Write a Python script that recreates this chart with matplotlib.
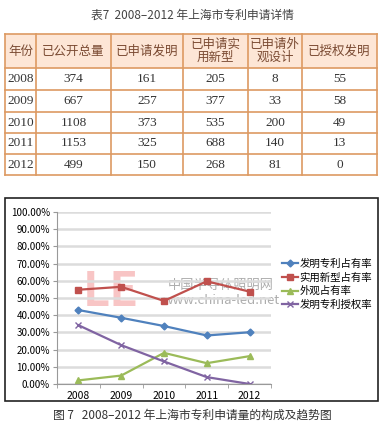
import numpy as np
import matplotlib
matplotlib.use("Agg")
import matplotlib.pyplot as plt
from matplotlib.patches import Rectangle

plt.rcParams['font.family'] = ['Noto Sans CJK SC', 'DejaVu Sans']

# table data
headers = ["年份", "已公开总量", "已申请发明", "已申请实\n用新型", "已申请外\n观设计", "已授权发明"]
years = ["2008", "2009", "2010", "2011", "2012"]
total_pub = [374, 667, 1108, 1153, 499]
invention = [161, 257, 373, 325, 150]
utility = [205, 377, 535, 688, 268]
design = [8, 33, 200, 140, 81]
granted = [55, 58, 49, 13, 0]

# chart data (shares, %)
series_names = ["发明专利占有率", "实用新型占有率", "外观占有率", "发明专利授权率"]
inv_share = [43.0, 38.5, 33.7, 28.2, 30.1]
util_share = [54.8, 56.5, 48.3, 59.7, 53.7]
design_share = [2.1, 4.9, 18.1, 12.1, 16.2]
grant_rate = [34.2, 22.6, 13.1, 4.0, 0.0]

W, H = 384, 429
fig = plt.figure(figsize=(W / 100, H / 100), dpi=100)

# full-figure axes in pixel coords for table and captions
bg = fig.add_axes([0, 0, 1, 1])
bg.set_xlim(0, W)
bg.set_ylim(H, 0)
bg.axis("off")

bg.text(192, 15, "表7  2008–2012 年上海市专利申请详情", ha="center", va="center",
        fontsize=8.5, color="#444444")

col_x = [5, 36, 111, 183, 248, 302, 377]
row_y = [34, 68, 90, 112, 133, 154, 175]
border = "#dd9a62"

bg.add_patch(Rectangle((col_x[0], row_y[0]), col_x[-1] - col_x[0], row_y[1] - row_y[0],
                       facecolor="#fde6d6", edgecolor="none"))
for xx in col_x:
    bg.plot([xx, xx], [row_y[0], row_y[-1]], color=border, lw=1.2)
for yy in row_y:
    bg.plot([col_x[0], col_x[-1]], [yy, yy], color=border, lw=1.2)

for i, h in enumerate(headers):
    cx = (col_x[i] + col_x[i + 1]) / 2
    bg.text(cx, (row_y[0] + row_y[1]) / 2, h, ha="center", va="center",
            fontsize=9, color="#7a4a32", linespacing=1.05)

table_cols = [years, total_pub, invention, utility, design, granted]
for r in range(len(years)):
    cy = (row_y[r + 1] + row_y[r + 2]) / 2
    for c, col in enumerate(table_cols):
        cx = (col_x[c] + col_x[c + 1]) / 2
        bg.text(cx, cy, str(col[r]), ha="center", va="center", fontsize=9.5,
                family="Liberation Serif", color="#333333")

# chart frame
bg.add_patch(Rectangle((5, 198), 373, 203, facecolor="none", edgecolor="#222222", lw=1.2))

bg.text(192, 415, "图 7   2008–2012 年上海市专利申请量的构成及趋势图", ha="center",
        va="center", fontsize=8.5, color="#333333")

# watermark on the chart
bg.text(111, 292, "LE", ha="center", va="center", fontsize=34,
        fontweight="bold", color="#f08080", alpha=0.45)
bg.text(221, 285, "中国半导体照明网", ha="center", va="center", fontsize=9.5,
        color="#777777", alpha=0.6)
bg.text(221, 301, "www.china-led.net", ha="center", va="center", fontsize=9.5,
        color="#777777", alpha=0.6)

# line chart
ax = fig.add_axes([57 / W, (H - 384) / H, (271 - 57) / W, (384 - 212) / H])
ax.set_facecolor("none")
x = np.arange(len(years))
styles = [
    (inv_share, "#4f81bd", "D", 3.5),
    (util_share, "#c0504d", "s", 4),
    (design_share, "#9bbb59", "^", 4),
    (grant_rate, "#8064a2", "x", 4),
]
for (vals, color, mk, ms), name in zip(styles, series_names):
    ax.plot(x, vals, color=color, marker=mk, markersize=ms, lw=1.6, label=name,
            markeredgewidth=1)

ax.set_xlim(-0.5, len(years) - 0.5)
ax.set_ylim(0, 100)
ax.set_yticks(np.arange(0, 101, 10))
ax.set_yticklabels([f"{v:.2f}%" for v in range(0, 101, 10)])
ax.set_xticks(x)
ax.set_xticklabels(years)
ax.set_xticks(np.arange(-0.5, len(years), 1), minor=True)
ax.tick_params(axis="x", which="major", length=0, labelsize=7.5, pad=5)
ax.tick_params(axis="x", which="minor", length=3, color="#999999")
ax.tick_params(axis="y", length=3, color="#999999", labelsize=7, pad=2)
ax.grid(axis="y", color="#dcdcdc", lw=1.8)
ax.set_axisbelow(True)
for s in ["top", "right"]:
    ax.spines[s].set_visible(False)
ax.spines["left"].set_color("#999999")
ax.spines["bottom"].set_color("#999999")

ax.legend(loc="center left", bbox_to_anchor=(1.03, 0.58), frameon=False, fontsize=7.5,
          handlelength=1.6, handletextpad=0.1, labelspacing=0.35, borderaxespad=0.0)

fig.savefig("out.png", dpi=100)
